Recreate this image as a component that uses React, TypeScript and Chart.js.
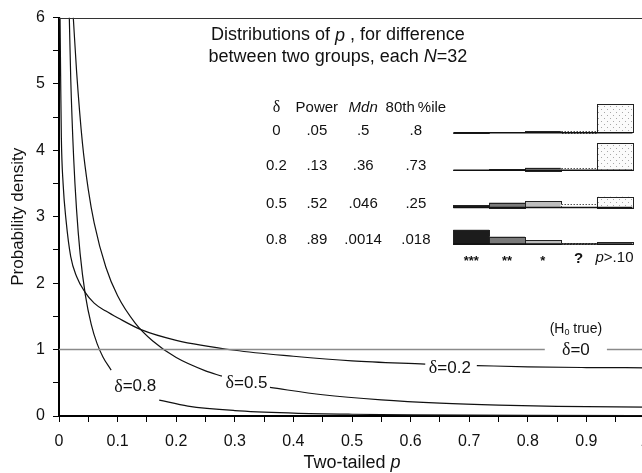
import React, { useEffect, useRef } from "react";
import { Chart, registerables } from "chart.js";
Chart.register(...registerables);

// ---------- data ----------
// two-tailed p (x) and probability density (y); null = break in the curve where its label sits
const pDelta0 = [0, 0.829, 0.88, 0.935, 1];
const yDelta0 = [1, 1, null, 1, 1];

const pDelta02 = [0.0018, 0.0028, 0.004, 0.007, 0.012, 0.02, 0.03, 0.044, 0.06, 0.08, 0.1, 0.14, 0.2, 0.3, 0.4, 0.5, 0.625, 0.667, 0.713, 0.8, 0.9, 1.0];
const yDelta02 = [6.0, 5.1, 4.2, 3.5, 2.95, 2.4, 2.1, 1.87, 1.7, 1.58, 1.48, 1.3, 1.14, 0.99, 0.9, 0.83, 0.78, null, 0.76, 0.74, 0.73, 0.726];

const pDelta05 = [0.0244, 0.03, 0.04, 0.05, 0.06, 0.08, 0.1, 0.13, 0.16, 0.2, 0.25, 0.278, 0.32, 0.36, 0.45, 0.55, 0.65, 0.75, 0.85, 1.0];
const yDelta05 = [6.0, 5.19, 4.11, 3.41, 2.91, 2.24, 1.81, 1.4, 1.13, 0.88, 0.68, 0.6, null, 0.43, 0.32, 0.244, 0.195, 0.164, 0.145, 0.135];

const pDelta08 = [0.0176, 0.02, 0.025, 0.03, 0.036, 0.045, 0.055, 0.065, 0.075, 0.089, 0.13, 0.171, 0.22, 0.3, 0.4, 0.5, 0.6, 0.8, 1.0];
const yDelta08 = [6.0, 5.09, 3.89, 3.1, 2.45, 1.82, 1.38, 1.09, 0.89, 0.69, null, 0.24, 0.15, 0.082, 0.044, 0.026, 0.017, 0.008, 0.006];

const curveDeltas = ["0", "0.2", "0.5", "0.8"];

// inset table
const tableDeltas = ["0", "0.2", "0.5", "0.8"];
const tablePower = [".05", ".13", ".52", ".89"];
const tableMdn = [".5", ".36", ".046", ".0014"];
const tableP80 = [".8", ".73", ".25", ".018"];

// inset bars: share of p values in each bin
const binLabels = ["***", "**", "*", "?", "p>.10"];
const binProbDelta0 = [0.001, 0.01, 0.04, 0.05, 0.92];
const binProbDelta02 = [0.005, 0.03, 0.09, 0.08, 0.88];
const binProbDelta05 = [0.07, 0.16, 0.21, 0.1, 0.35];
const binProbDelta08 = [0.46, 0.24, 0.13, 0.03, 0.06];

// ---------- layout (in main-axis data units) ----------
const LAYOUT = {
  titleX: 0.476,
  titleY: [5.73, 5.4],
  colX: [0.371, 0.44, 0.519, 0.609],
  headerY: 4.647,
  rowTextY: [4.3, 3.76, 3.2, 2.65],
  rowBaseY: [4.266, 3.7, 3.14, 2.59],
  binStart: 0.673,
  binWidth: 0.0611,
  barScale: 0.466,
  starsY: 2.376,
  curveLabelPos: [
    [0.882, 0.99],
    [0.667, 0.72],
    [0.32, 0.49],
    [0.13, 0.44],
  ],
  h0Pos: [0.882, 1.31],
};

const SANS = '"Liberation Sans", Arial, Helvetica, sans-serif';
const SERIF = '"Liberation Serif", "Times New Roman", serif';
const f = (size: number, style = "") => `${style} ${size}px ${SANS}`.trim();
const fs = (size: number) => `${size}px ${SERIF}`;
const INK = "#111";

type Part = { t: string; f: string; dy?: number };
function drawParts(ctx: CanvasRenderingContext2D, parts: Part[], cx: number, cy: number) {
  let total = 0;
  parts.forEach((p) => {
    ctx.font = p.f;
    total += ctx.measureText(p.t).width;
  });
  let x = cx - total / 2;
  ctx.fillStyle = INK;
  ctx.textBaseline = "middle";
  ctx.textAlign = "left";
  parts.forEach((p) => {
    ctx.font = p.f;
    ctx.fillText(p.t, x, cy + (p.dy || 0));
    x += ctx.measureText(p.t).width;
  });
}

const pts = (xs: number[], ys: (number | null)[]) => xs.map((x, i) => ({ x, y: ys[i] }));

let dotPattern: CanvasPattern | null = null;
function getPattern(ctx: CanvasRenderingContext2D) {
  if (dotPattern) return dotPattern;
  const c = document.createElement("canvas");
  c.width = 6;
  c.height = 6;
  const g = c.getContext("2d")!;
  g.fillStyle = "#fbfbfb";
  g.fillRect(0, 0, 6, 6);
  g.fillStyle = "#a8a8a8";
  g.fillRect(1, 1, 1, 1);
  g.fillRect(4, 4, 1, 1);
  dotPattern = ctx.createPattern(c, "repeat");
  return dotPattern;
}

const overlay = {
  id: "overlay",
  afterDraw(chart: any) {
    const { ctx, chartArea } = chart;
    const xs = chart.scales.x;
    const ys = chart.scales.y;
    const X = (v: number) => xs.getPixelForValue(v);
    const Y = (v: number) => ys.getPixelForValue(v);
    ctx.save();

    // top frame line
    ctx.strokeStyle = "#333";
    ctx.lineWidth = 1;
    ctx.beginPath();
    ctx.moveTo(chartArea.left, Math.round(Y(6)) + 0.5);
    ctx.lineTo(chartArea.right, Math.round(Y(6)) + 0.5);
    ctx.stroke();

    // title
    drawParts(ctx, [
      { t: "Distributions of ", f: f(18) },
      { t: "p", f: f(18, "italic") },
      { t: " , for difference", f: f(18) },
    ], X(LAYOUT.titleX), Y(LAYOUT.titleY[0]));
    drawParts(ctx, [
      { t: "between two groups, each ", f: f(18) },
      { t: "N", f: f(18, "italic") },
      { t: "=32", f: f(18) },
    ], X(LAYOUT.titleX), Y(LAYOUT.titleY[1]));

    // table header
    drawParts(ctx, [{ t: "δ", f: fs(16) }], X(LAYOUT.colX[0]), Y(LAYOUT.headerY));
    drawParts(ctx, [{ t: "Power", f: f(15) }], X(LAYOUT.colX[1]), Y(LAYOUT.headerY));
    drawParts(ctx, [{ t: "Mdn", f: f(15, "italic") }], X(LAYOUT.colX[2]), Y(LAYOUT.headerY));
    drawParts(ctx, [{ t: "80th\u2009%ile", f: f(15) }], X(LAYOUT.colX[3]), Y(LAYOUT.headerY));

    const cols = [tableDeltas, tablePower, tableMdn, tableP80];
    const probs = [binProbDelta0, binProbDelta02, binProbDelta05, binProbDelta08];
    const fills: any[] = ["#1c1c1c", "#7a7a7a", "#bdbdbd", "#ffffff", getPattern(ctx)];
    for (let r = 0; r < 4; r++) {
      cols.forEach((col, c) => {
        drawParts(ctx, [{ t: col[r], f: f(15) }], X(LAYOUT.colX[c]), Y(LAYOUT.rowTextY[r]));
      });
      const base = Y(LAYOUT.rowBaseY[r]);
      probs[r].forEach((pv, i) => {
        const x0 = X(LAYOUT.binStart + i * LAYOUT.binWidth);
        const x1 = X(LAYOUT.binStart + (i + 1) * LAYOUT.binWidth);
        const top = Y(LAYOUT.rowBaseY[r] + pv * LAYOUT.barScale);
        ctx.fillStyle = fills[i];
        ctx.fillRect(x0, top, x1 - x0, base - top);
        ctx.strokeStyle = i === 3 ? "#555" : "#222";
        ctx.lineWidth = 1;
        ctx.setLineDash(i === 3 ? [1.5, 1.5] : []);
        ctx.strokeRect(Math.round(x0) + 0.5, Math.round(top) + 0.5, Math.round(x1 - x0), Math.round(base - top));
        ctx.setLineDash([]);
      });
      ctx.strokeStyle = INK;
      ctx.lineWidth = 1.5;
      ctx.beginPath();
      ctx.moveTo(X(LAYOUT.binStart), base);
      ctx.lineTo(X(LAYOUT.binStart + 5 * LAYOUT.binWidth), base);
      ctx.stroke();
    }

    // bin labels
    binLabels.forEach((lab, i) => {
      const cx = X(LAYOUT.binStart + (i + 0.5) * LAYOUT.binWidth);
      const cy = Y(LAYOUT.starsY);
      if (lab.startsWith("p")) {
        drawParts(ctx, [{ t: "p", f: f(15, "italic") }, { t: lab.slice(1), f: f(15) }], cx, cy);
      } else if (lab === "?") {
        drawParts(ctx, [{ t: lab, f: f(15, "bold") }], cx, cy + 1);
      } else {
        drawParts(ctx, [{ t: lab, f: f(13, "bold") }], cx, cy + 3);
      }
    });

    // curve labels
    curveDeltas.forEach((d, i) => {
      const [lx, ly] = LAYOUT.curveLabelPos[i];
      drawParts(ctx, [{ t: "δ", f: fs(18) }, { t: "=" + d, f: f(17) }], X(lx), Y(ly));
    });
    drawParts(ctx, [
      { t: "(H", f: f(14) },
      { t: "0", f: f(9), dy: 3 },
      { t: " true)", f: f(14) },
    ], X(LAYOUT.h0Pos[0]), Y(LAYOUT.h0Pos[1]));

    // x-axis title
    drawParts(ctx, [
      { t: "Two-tailed ", f: f(18) },
      { t: "p", f: f(18, "italic") },
    ], (chartArea.left + chartArea.right) / 2, 463);

    ctx.restore();
  },
};

export default function App() {
  const ref = useRef<HTMLCanvasElement | null>(null);
  useEffect(() => {
    if (!ref.current) return;
    const lineDs = (data: any[], color: string, width: number) => ({
      data,
      borderColor: color,
      borderWidth: width,
      pointRadius: 0,
      fill: false,
      spanGaps: false,
      cubicInterpolationMode: "monotone",
    });
    const chart = new Chart(ref.current, {
      type: "line",
      data: {
        datasets: [
          lineDs(pts(pDelta0, yDelta0), "#8a8a8a", 1.5),
          lineDs(pts(pDelta02, yDelta02), "#111", 1.2),
          lineDs(pts(pDelta05, yDelta05), "#111", 1.2),
          lineDs(pts(pDelta08, yDelta08), "#111", 1.2),
        ] as any,
      },
      options: {
        responsive: false,
        animation: false,
        devicePixelRatio: 1,
        layout: { padding: { left: 0, right: 15, top: 17, bottom: 0 } },
        plugins: { legend: { display: false }, tooltip: { enabled: false } },
        scales: {
          x: {
            type: "linear",
            min: 0,
            max: 1,
            afterFit: (s: any) => {
              s.height = 57;
            },
            border: { display: true, color: "#000", width: 2 },
            grid: { display: true, drawOnChartArea: false, drawTicks: true, tickLength: 6, tickColor: "#000", tickWidth: 1 },
            ticks: {
              stepSize: 0.05,
              autoSkip: false,
              maxRotation: 0,
              minRotation: 0,
              padding: 10,
              color: INK,
              font: { family: SANS, size: 16 },
              callback: (v: any) => {
                const r = Math.round(Number(v) * 100);
                if (r % 10 !== 0) return "";
                if (r === 0) return "0";
                if (r === 100) return "1";
                return (r / 100).toFixed(1);
              },
            },
          },
          y: {
            type: "linear",
            min: 0,
            max: 6,
            afterFit: (s: any) => {
              s.width = 59;
            },
            border: { display: true, color: "#000", width: 2 },
            grid: { display: true, drawOnChartArea: false, drawTicks: true, tickLength: 6, tickColor: "#000", tickWidth: 1 },
            title: {
              display: true,
              text: "Probability density",
              color: INK,
              font: { family: SANS, size: 17 },
              padding: { top: 8, bottom: 0 },
            },
            ticks: {
              stepSize: 0.5,
              padding: 8,
              color: INK,
              font: { family: SANS, size: 16 },
              callback: (v: any) => {
                const n = Number(v);
                return Math.abs(n - Math.round(n)) < 1e-6 ? String(Math.round(n)) : "";
              },
            },
          },
        },
      } as any,
      plugins: [overlay],
    });
    return () => chart.destroy();
  }, []);
  return (
    <div style={{ position: "fixed", left: 0, top: 0, width: 660, height: 473, background: "#fff" }}>
      <canvas ref={ref} width={660} height={473} style={{ display: "block" }} />
    </div>
  );
}
